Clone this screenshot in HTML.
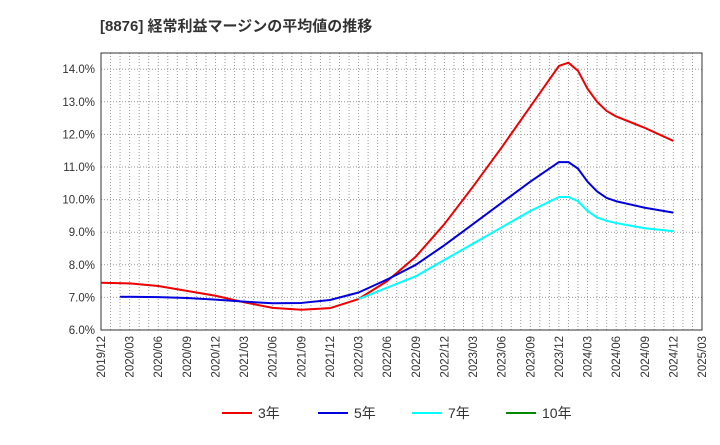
<!DOCTYPE html>
<html><head><meta charset="utf-8"><style>
body{margin:0;background:#fff;font-family:"Liberation Sans","Noto Sans CJK JP",sans-serif}
</style></head><body>
<svg width="720" height="440" xmlns="http://www.w3.org/2000/svg" id="svg">
<text x="100" y="31" font-size="15" font-weight="bold" fill="#333" font-family="Liberation Sans, Noto Sans CJK JP, sans-serif">[8876]  経常利益マージンの平均値の推移</text>
<g id="grid"></g><g id="axes"></g><g id="series"></g><g id="legend"></g>
</svg>
<script>
const xTicks=["2019/12","2020/03","2020/06","2020/09","2020/12","2021/03","2021/06","2021/09","2021/12","2022/03","2022/06","2022/09","2022/12","2023/03","2023/06","2023/09","2023/12","2024/03","2024/06","2024/09","2024/12","2025/03"];
const yTicks=[6,7,8,9,10,11,12,13,14];
const dates3=["2019/12","2020/03","2020/06","2020/09","2020/12","2021/03","2021/06","2021/09","2021/12","2022/03","2022/06","2022/09","2022/12","2023/03","2023/06","2023/09","2023/12","2024/01","2024/02","2024/03","2024/04","2024/05","2024/06","2024/09","2024/12"];
const vals3=[7.45,7.43,7.35,7.2,7.05,6.85,6.68,6.62,6.67,6.95,7.5,8.25,9.25,10.4,11.6,12.85,14.1,14.2,13.95,13.4,13.0,12.72,12.55,12.2,11.8];
const dates5=["2020/02","2020/06","2020/09","2020/12","2021/03","2021/06","2021/09","2021/12","2022/03","2022/06","2022/09","2022/12","2023/03","2023/06","2023/09","2023/12","2024/01","2024/02","2024/03","2024/04","2024/05","2024/06","2024/09","2024/12"];
const vals5=[7.02,7.01,6.98,6.93,6.87,6.82,6.83,6.92,7.15,7.55,8.0,8.6,9.25,9.9,10.55,11.15,11.15,10.95,10.55,10.25,10.05,9.95,9.75,9.6];
const dates7=["2022/03","2022/06","2022/09","2022/12","2023/03","2023/06","2023/09","2023/12","2024/01","2024/02","2024/03","2024/04","2024/05","2024/06","2024/09","2024/12"];
const vals7=[6.95,7.3,7.65,8.15,8.65,9.15,9.65,10.08,10.08,9.95,9.65,9.45,9.35,9.28,9.12,9.03];
const legendLabels=["3年","5年","7年","10年"];
const legendColors=["#e00","#00d","#0ff","#080"];
const L=101,R=702,T=53,B=330;
const NS="http://www.w3.org/2000/svg";
function mi(d){const[y,m]=d.split("/").map(Number);return (y-2019)*12+m-12;}
const X=d=>L+mi(d)*(R-L)/63;
const Y=v=>330-(v-6)*32.6;
function mk(t,a,p){const e=document.createElementNS(NS,t);for(const k in a)e.setAttribute(k,a[k]);p.appendChild(e);return e;}
const grid=document.getElementById("grid"),axes=document.getElementById("axes"),ser=document.getElementById("series"),leg=document.getElementById("legend");
for(let m=1;m<63;m++){const l=mk("line",{x1:L+m*(R-L)/63,x2:L+m*(R-L)/63,y1:T,y2:B,stroke:"#999","stroke-width":1,"stroke-dasharray":"1,2"},grid);

}
yTicks.forEach(v=>{const l=mk("line",{x1:L,x2:R,y1:Y(v),y2:Y(v),stroke:"#999","stroke-dasharray":"1,2"},grid);


const t=mk("text",{x:L-6,y:Y(v)+4,"text-anchor":"end","font-size":11.5,fill:"#333"},axes);t.textContent=v.toFixed(1)+"%";

});
const fr=mk("rect",{x:L,y:T,width:R-L,height:B-T,fill:"none",stroke:"#333"},axes);


xTicks.forEach(d=>{const x=X(d);const t=mk("text",{transform:`translate(${x+4},${B+6}) rotate(-90)`,"text-anchor":"end","font-size":11.5,fill:"#333"},axes);t.textContent=d;

});
function line(ds,vs,c,n){const p=mk("polyline",{points:ds.map((d,i)=>X(d)+","+Y(vs[i])).join(" "),fill:"none",stroke:c,"stroke-width":2,"stroke-linejoin":"round"},ser);

}
line(dates3,vals3,"#e00","series-3yr");line(dates5,vals5,"#00d","series-5yr");line(dates7,vals7,"#0ff","series-7yr");
const lx=[222,318,412,506];
legendLabels.forEach((s,i)=>{const g=mk("g",{},leg);


mk("line",{x1:lx[i],x2:lx[i]+30,y1:413,y2:413,stroke:legendColors[i],"stroke-width":2},g);
const t=mk("text",{x:lx[i]+36,y:418,"font-size":14,fill:"#333"},g);t.textContent=s;});
</script>
</body></html>
